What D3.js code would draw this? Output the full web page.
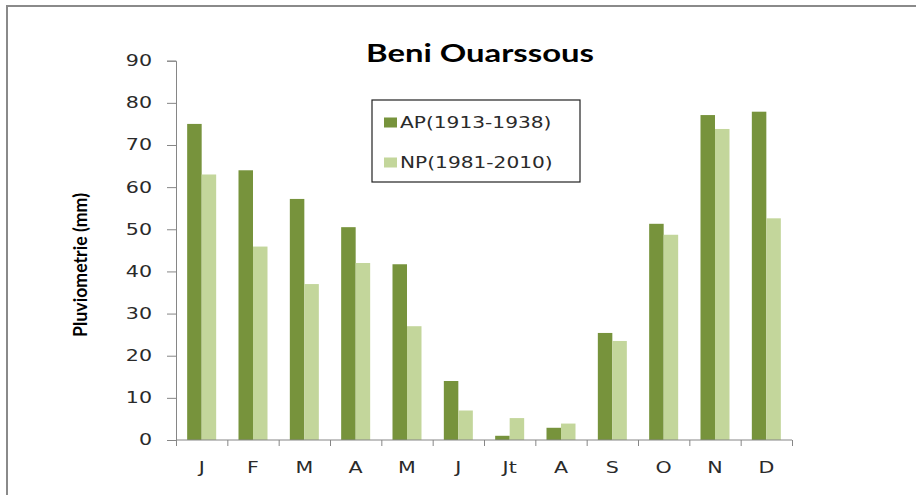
<!DOCTYPE html>
<html><head><meta charset="utf-8">
<script src="https://cdn.jsdelivr.net/npm/d3@7"></script>
<style>body{margin:0;background:#fff}svg{display:block}</style>
</head><body>
<svg id="c" width="916" height="495"></svg>
<script>
const months = ["J","F","M","A","M","J","Jt","A","S","O","N","D"];
const seriesNames = ["AP(1913-1938)","NP(1981-2010)"];
const apValues = [75, 64, 57.2, 50.5, 41.7, 14, 1, 2.9, 25.4, 51.3, 77.1, 77.9];
const npValues = [63, 45.9, 37, 42, 27, 7, 5.2, 3.9, 23.5, 48.7, 73.8, 52.6];
const yTicks = [0,10,20,30,40,50,60,70,80,90];
const colors = ["#77933C","#C3D69B"];

(function(){
const svg = d3.select("#c");
const W = 916, H = 495;
const pLeft = 176, pRight = 792, pTop = 60.7, pBottom = 440;

// outer frame
svg.append("line").attr("x1",6).attr("x2",W).attr("y1",6).attr("y2",6).attr("stroke","#8a8a8a").attr("stroke-width",2);
svg.append("line").attr("x1",7).attr("x2",7).attr("y1",6).attr("y2",H).attr("stroke","#8a8a8a").attr("stroke-width",2);

const idx = months.map((m,i)=>i);
const x0 = d3.scaleBand().domain(idx).range([pLeft,pRight]).paddingInner(0.435).paddingOuter(0.2175);
const x1 = d3.scaleBand().domain([0,1]).range([0,x0.bandwidth()]);
const xb = d3.scaleBand().domain(idx).range([pLeft,pRight]);
const xl = d3.scaleLinear().domain([0,12]).range([pLeft,pRight]);
const y = d3.scaleLinear().domain([0,90]).range([pBottom,pTop]);

// bars
const data = idx.map(i=>[apValues[i], npValues[i]]);
const g = svg.append("g");
g.selectAll("g.m").data(data).join("g").attr("class","m")
  .attr("transform",(d,i)=>`translate(${x0(i)},0)`)
  .selectAll("rect").data(d=>d.map((v,k)=>({v,k}))).join("rect")
  .attr("x",d=>x1(d.k)).attr("width",x1.bandwidth())
  .attr("y",d=>y(d.v)).attr("height",d=>pBottom-y(d.v))
  .attr("fill",d=>colors[d.k]);

const axisColor = "#868686";
const txtColor = "#2a2a2a";
// y axis
const ya = svg.append("g").attr("transform",`translate(${pLeft},0)`)
  .call(d3.axisLeft(y).tickValues(yTicks).tickSize(9).tickPadding(0));
ya.selectAll("path,line").attr("stroke",axisColor);
ya.selectAll("text").attr("x",0).attr("transform","translate(-24,0) scale(1.33,1)")
  .attr("font-family","DejaVu Sans").attr("font-size",15.5).attr("fill",txtColor);

// x axis boundary ticks
const xa = svg.append("g").attr("transform",`translate(0,${pBottom})`)
  .call(d3.axisBottom(xl).ticks(12).tickSize(6).tickFormat(""));
xa.selectAll("path,line").attr("stroke",axisColor);
xa.select("path").attr("d",`M${pLeft},0H${pRight}`);
// x labels
const xla = svg.append("g").attr("transform",`translate(0,${pBottom})`)
  .call(d3.axisBottom(xb).tickSize(0).tickFormat(i=>months[i]));
xla.select("path").remove();
xla.selectAll("text").attr("y",0).attr("dy",0)
  .attr("transform","translate(0,33) scale(1.33,1)")
  .attr("font-family","DejaVu Sans").attr("font-size",15.5).attr("fill",txtColor);

// title
svg.append("text").attr("x",480).attr("y",61.5).attr("text-anchor","middle")
  .attr("font-family","Lato").attr("font-weight","bold").attr("font-size",24)
  .attr("textLength",228).attr("lengthAdjust","spacingAndGlyphs").attr("fill","#000")
  .text("Beni Ouarssous");

// y label
svg.append("text").attr("transform","translate(87,265) rotate(-90)").attr("text-anchor","middle")
  .attr("font-family","Lato").attr("font-weight","bold").attr("font-size",19)
  .attr("textLength",144).attr("lengthAdjust","spacingAndGlyphs").attr("fill","#000")
  .text("Pluviometrie (mm)");

// legend
const lg = svg.append("g");
lg.append("rect").attr("x",372).attr("y",100).attr("width",208).attr("height",82)
  .attr("fill","#fff").attr("stroke","#222").attr("stroke-width",1.2);
seriesNames.forEach((s,k)=>{
  const yy = 127.5 + k*40;
  lg.append("rect").attr("x",384).attr("y",yy-10).attr("width",13).attr("height",10).attr("fill",colors[k]);
  lg.append("text").attr("x",0).attr("y",0)
    .attr("transform",`translate(400,${yy}) scale(1.3,1)`)
    .attr("font-family","DejaVu Sans").attr("font-size",15.5).attr("fill",txtColor).text(s);
});
})();
</script>
</body></html>
